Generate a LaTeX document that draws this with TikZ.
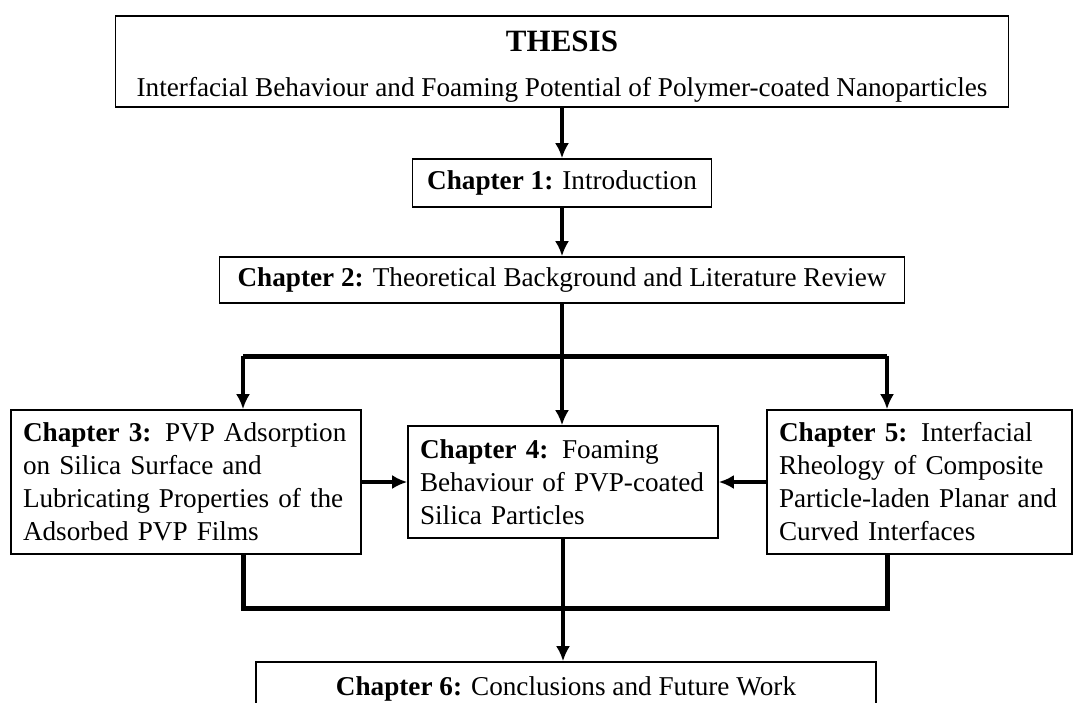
\documentclass[tikz,border=0pt]{standalone}
\usepackage{fontspec}
\setmainfont{Liberation Serif}
\usetikzlibrary{arrows.meta,positioning,calc}

\begin{document}
\begin{tikzpicture}[x=0.5pt,y=-0.5pt,>={Latex[length=7.5pt,width=7pt]},every node/.style={font=\fontsize{13.6}{16.5}\selectfont}]
\tikzset{chap/.style={draw,line width=0.8pt,inner xsep=6pt,inner ysep=0pt,align=left},
  flow/.style={->,line width=2pt},
  bar/.style={line width=2.5pt}}
\useasboundingbox (0,0) rectangle (1075,702);
\clip (0,0) rectangle (1075,702);
\node[chap,align=center,minimum width=446.5pt,minimum height=45.5pt] (thesis) at (562,61.5) {\rule{0pt}{15pt}{\fontsize{15.5}{18}\selectfont\bfseries THESIS}\\[6pt]Interfacial Behaviour and Foaming Potential of Polymer-coated Nanoparticles};
\node[chap,align=center,minimum width=149.5pt,minimum height=24pt] (ch1) at (562,183) {\textbf{Chapter 1:} Introduction};
\node[chap,align=center,minimum width=342.5pt,minimum height=23pt] (ch2) at (562,280) {\textbf{Chapter 2:} Theoretical Background and Literature Review};
\node[chap,text width=163pt,minimum height=72pt] (ch3) at (186,482) {\textbf{Chapter 3:} PVP Adsorption\\on Silica Surface and\\Lubricating Properties of the\\Adsorbed PVP Films};
\node[chap,text width=143pt,minimum height=56pt] (ch4) at (563,482) {\textbf{Chapter 4:} Foaming\\Behaviour of PVP-coated\\Silica Particles};
\node[chap,text width=140.5pt,minimum height=72pt] (ch5) at (919.5,482) {\textbf{Chapter 5:} Interfacial\\Rheology of Composite\\Particle-laden Planar and\\Curved Interfaces};
\node[chap,align=center,minimum width=310pt,minimum height=27pt] (ch6) at (566,689) {\textbf{Chapter 6:} Conclusions and Future Work};
\coordinate (bl) at (243,356);
\coordinate (br) at (887,356);
\coordinate (bot) at (563,608);
% main line
\draw[flow] (thesis) -- (ch1);
\draw[flow] (ch1) -- (ch2);
\draw[flow] (ch2.south) -- (ch2.south |- ch4.north);
% branches
\draw[bar] (bl) -- (br);
\draw[flow] (bl) -- (bl |- ch3.north);
\draw[flow] (br) -- (br |- ch5.north);
\draw[flow] (ch3) -- (ch4);
\draw[flow] (ch5) -- (ch4);
\draw[bar] (bl |- ch3.south) -- (bl |- bot) -- (br |- bot) -- (br |- ch5.south);
\draw[flow] (ch4.south) -- (ch4.south |- ch6.north);
\end{tikzpicture}
\end{document}
